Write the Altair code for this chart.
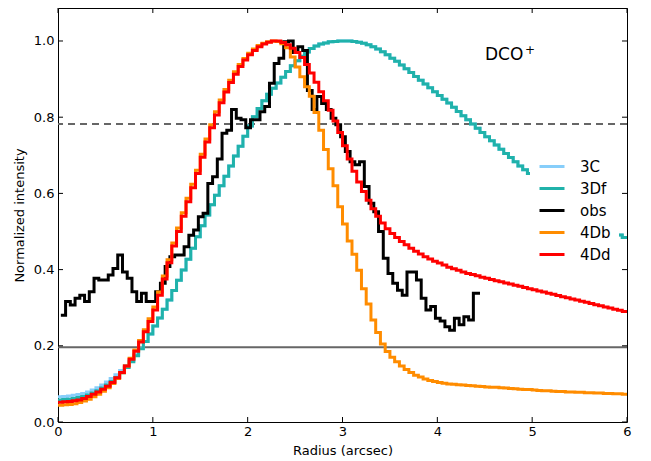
import altair as alt
import pandas as pd

# ---------------- data ----------------
series_names = ["3C", "3Df", "obs", "4Db", "4Dd"]
series_colors = ["#87CEFA", "#20B2AA", "#000000", "#FF8C00", "#FF0000"]

model_step = 0.05  # radial bin width of the models (arcsec)

d4d = [0.052, 0.053, 0.054, 0.056, 0.058, 0.062, 0.067, 0.073, 0.079, 0.086,
       0.094, 0.104, 0.116, 0.130, 0.147, 0.165, 0.186, 0.210, 0.237, 0.264,
       0.294, 0.333, 0.375, 0.418, 0.462, 0.500, 0.540, 0.578, 0.615, 0.652,
       0.695, 0.735, 0.772, 0.806, 0.838, 0.866, 0.891, 0.913, 0.933, 0.950,
       0.964, 0.975, 0.985, 0.992, 0.997, 1.000, 1.000, 0.996, 0.990, 0.981,
       0.970, 0.957, 0.938, 0.916, 0.892, 0.867, 0.843, 0.818, 0.790, 0.760,
       0.725, 0.690, 0.658, 0.630, 0.605, 0.582, 0.560, 0.540, 0.522, 0.507,
       0.495, 0.484, 0.474, 0.465, 0.456, 0.448, 0.441, 0.434, 0.428, 0.422,
       0.417, 0.412, 0.406, 0.402, 0.398, 0.394, 0.390, 0.387, 0.384, 0.380,
       0.377, 0.374, 0.371, 0.368, 0.365, 0.362, 0.359, 0.356, 0.353, 0.350,
       0.347, 0.344, 0.341, 0.338, 0.335, 0.332, 0.329, 0.326, 0.323, 0.320,
       0.317, 0.314, 0.311, 0.308, 0.305, 0.302, 0.299, 0.296, 0.293, 0.290]

d4b = [0.044, 0.045, 0.046, 0.048, 0.051, 0.055, 0.060, 0.066, 0.073, 0.081,
       0.090, 0.101, 0.114, 0.129, 0.147, 0.167, 0.189, 0.214, 0.242, 0.271,
       0.302, 0.341, 0.383, 0.426, 0.470, 0.509, 0.549, 0.587, 0.624, 0.661,
       0.703, 0.743, 0.780, 0.814, 0.845, 0.873, 0.897, 0.919, 0.938, 0.954,
       0.968, 0.979, 0.988, 0.994, 0.998, 1.000, 0.999, 0.993, 0.982, 0.958,
       0.932, 0.906, 0.880, 0.855, 0.812, 0.766, 0.715, 0.665, 0.620, 0.565,
       0.520, 0.475, 0.440, 0.398, 0.350, 0.310, 0.268, 0.235, 0.205, 0.185,
       0.170, 0.158, 0.147, 0.138, 0.130, 0.123, 0.118, 0.113, 0.109, 0.106,
       0.104, 0.102, 0.100, 0.099, 0.098, 0.097, 0.096, 0.095, 0.094, 0.093,
       0.092, 0.091, 0.091, 0.090, 0.089, 0.088, 0.087, 0.086, 0.085, 0.085,
       0.084, 0.083, 0.082, 0.082, 0.081, 0.080, 0.080, 0.079, 0.079, 0.078,
       0.078, 0.077, 0.077, 0.076, 0.076, 0.075, 0.075, 0.074, 0.074, 0.073]

d3f = [0.058, 0.059, 0.060, 0.062, 0.064, 0.067, 0.071, 0.076, 0.082, 0.089,
       0.097, 0.106, 0.117, 0.129, 0.143, 0.158, 0.174, 0.192, 0.211, 0.231,
       0.252, 0.273, 0.296, 0.320, 0.345, 0.372, 0.399, 0.427, 0.456, 0.486,
       0.515, 0.543, 0.570, 0.595, 0.620, 0.645, 0.672, 0.698, 0.724, 0.750,
       0.777, 0.801, 0.823, 0.843, 0.860, 0.876, 0.890, 0.905, 0.920, 0.935,
       0.948, 0.960, 0.971, 0.980, 0.987, 0.992, 0.995, 0.998, 0.999, 1.000,
       1.000, 1.000, 0.999, 0.997, 0.994, 0.990, 0.985, 0.979, 0.972, 0.964,
       0.955, 0.947, 0.937, 0.927, 0.917, 0.907, 0.897, 0.887, 0.877, 0.867,
       0.857, 0.847, 0.837, 0.826, 0.815, 0.804, 0.793, 0.782, 0.771, 0.760,
       0.749, 0.738, 0.727, 0.716, 0.705, 0.694, 0.683, 0.672, 0.662, 0.652,
       0.643, 0.634, 0.625, 0.616, 0.607, 0.598, 0.589, 0.580, 0.571, 0.563,
       0.555, 0.547, 0.539, 0.531, 0.523, 0.515, 0.507, 0.499, 0.491, 0.484]

# 3C differs from 3Df only in the inner part
c3_head = [0.066, 0.067, 0.068, 0.070, 0.072, 0.075, 0.079, 0.084, 0.090, 0.097,
           0.105, 0.114, 0.124, 0.135, 0.148, 0.162, 0.177, 0.194]
c3 = c3_head + d3f[len(c3_head):]

obs_start = 0.03
obs_step = 0.05
obs_end = 4.45
obs = [0.280, 0.316, 0.307, 0.325, 0.333, 0.316, 0.342, 0.377, 0.373, 0.373,
       0.386, 0.403, 0.438, 0.394, 0.377, 0.342, 0.316, 0.338, 0.316, 0.316,
       0.342, 0.364, 0.408, 0.434, 0.438, 0.438, 0.460, 0.490, 0.504, 0.539,
       0.548, 0.626, 0.644, 0.690, 0.758, 0.766, 0.820, 0.797, 0.793, 0.772,
       0.793, 0.793, 0.814, 0.828, 0.889, 0.941, 0.955, 0.998, 1.000, 0.970,
       0.985, 0.975, 0.870, 0.820, 0.854, 0.836, 0.820, 0.797, 0.780, 0.749,
       0.710, 0.683, 0.675, 0.683, 0.618, 0.574, 0.552, 0.500, 0.430, 0.390,
       0.364, 0.346, 0.333, 0.394, 0.394, 0.373, 0.325, 0.294, 0.303, 0.272,
       0.265, 0.250, 0.241, 0.272, 0.255, 0.276, 0.268, 0.338]

solid_level = [0.196]
dashed_level = [0.782]

x_ticks = [0, 1, 2, 3, 4, 5, 6]
y_ticks = [0.0, 0.2, 0.4, 0.6, 0.8, 1.0]

label_text = ["DCO"]
label_pos = [(4.503, 0.950)]
sup_text = ["+"]
sup_pos = [(4.977, 0.976)]

# ---------------- build tables ----------------
def model_frame(name, vals):
    rows = [{"r": round(i * model_step, 3), "v": v, "series": name}
            for i, v in enumerate(vals)]
    rows.append({"r": round(len(vals) * model_step, 3), "v": vals[-1], "series": name})
    return pd.DataFrame(rows)

def obs_frame(name, vals):
    rows = [{"r": round(obs_start + i * obs_step, 3), "v": v, "series": name}
            for i, v in enumerate(vals)]
    rows.append({"r": obs_end, "v": vals[-1], "series": name})
    return pd.DataFrame(rows)

frames = {
    "3C": model_frame("3C", c3),
    "3Df": model_frame("3Df", d3f),
    "obs": obs_frame("obs", obs),
    "4Db": model_frame("4Db", d4b),
    "4Dd": model_frame("4Dd", d4d),
}

W, H = 569, 414
xscale = alt.Scale(domain=[0, 6], nice=False, zero=False)
yscale = alt.Scale(domain=[0, 1.0866], nice=False, zero=False)

xaxis = alt.Axis(values=x_ticks, format="d", grid=False, ticks=False, domain=False,
                 labelFlush=False,
                 labelFont="DejaVu Sans", labelFontSize=13, labelColor="black",
                 labelPadding=3, title="Radius (arcsec)", titleFont="DejaVu Sans",
                 titleFontSize=13, titleFontWeight="normal", titleColor="black",
                 titlePadding=6)
yaxis = alt.Axis(values=y_ticks, format=".1f", grid=False, ticks=False, domain=False,
                 labelFlush=False,
                 labelFont="DejaVu Sans", labelFontSize=13, labelColor="black",
                 labelPadding=4, title="Normalized intensity", titleFont="DejaVu Sans",
                 titleFontSize=13, titleFontWeight="normal", titleColor="black",
                 titlePadding=7)

color_scale = alt.Scale(domain=series_names, range=series_colors)
legend = alt.Legend(title=None, orient="none", legendX=472, legendY=136.5,
                    fillColor="white", padding=8, symbolType="stroke",
                    symbolSize=625, symbolStrokeWidth=3, rowPadding=-2,
                    labelFont="DejaVu Sans", labelFontSize=15, labelColor="black",
                    labelOffset=14)

layers = []

# reference horizontal lines
layers.append(alt.Chart(pd.DataFrame({"v": solid_level})).mark_rule(
    color="#666666", strokeWidth=2).encode(
    y=alt.Y("v:Q", scale=yscale, axis=yaxis)))
layers.append(alt.Chart(pd.DataFrame({"v": dashed_level})).mark_rule(
    color="#666666", strokeWidth=2, strokeDash=[7, 5]).encode(
    y=alt.Y("v:Q", scale=yscale, axis=yaxis)))

# curves
for name in series_names:
    layers.append(alt.Chart(frames[name]).mark_line(
        interpolate="step-after", strokeWidth=3).encode(
        x=alt.X("r:Q", scale=xscale, axis=xaxis),
        y=alt.Y("v:Q", scale=yscale, axis=yaxis),
        color=alt.Color("series:N", scale=color_scale, legend=legend),
        order=alt.Order("r:Q")))

# inward ticks on all four sides
xt = pd.DataFrame({"r": x_ticks})
yt = pd.DataFrame({"v": y_ticks})
layers.append(alt.Chart(xt).mark_rule(color="black", strokeWidth=1).encode(
    x=alt.X("r:Q", scale=xscale, axis=xaxis), y=alt.value(H), y2=alt.value(H - 5)))
layers.append(alt.Chart(xt).mark_rule(color="black", strokeWidth=1).encode(
    x=alt.X("r:Q", scale=xscale, axis=xaxis), y=alt.value(0), y2=alt.value(5)))
layers.append(alt.Chart(yt).mark_rule(color="black", strokeWidth=1).encode(
    y=alt.Y("v:Q", scale=yscale, axis=yaxis), x=alt.value(0), x2=alt.value(5)))
layers.append(alt.Chart(yt).mark_rule(color="black", strokeWidth=1).encode(
    y=alt.Y("v:Q", scale=yscale, axis=yaxis), x=alt.value(W), x2=alt.value(W - 5)))

# annotation
lab = pd.DataFrame({"t": label_text, "r": [p[0] for p in label_pos],
                    "v": [p[1] for p in label_pos]})
sup = pd.DataFrame({"t": sup_text, "r": [p[0] for p in sup_pos],
                    "v": [p[1] for p in sup_pos]})
layers.append(alt.Chart(lab).mark_text(align="left", baseline="alphabetic",
                                       font="DejaVu Sans", fontSize=17,
                                       color="black").encode(
    x=alt.X("r:Q", scale=xscale, axis=xaxis),
    y=alt.Y("v:Q", scale=yscale, axis=yaxis), text="t:N"))
layers.append(alt.Chart(sup).mark_text(align="center", baseline="middle",
                                       font="DejaVu Sans", fontSize=12,
                                       color="black").encode(
    x=alt.X("r:Q", scale=xscale, axis=xaxis),
    y=alt.Y("v:Q", scale=yscale, axis=yaxis), text="t:N"))

chart = alt.layer(*layers).properties(
    width=W, height=H,
    autosize=alt.AutoSizeParams(type="none"),
    padding={"left": 50, "top": 0, "right": 16, "bottom": 38},
    background="white",
).configure_view(stroke="black", strokeWidth=1)

chart.save("out.html", embed_options={"renderer": "svg", "actions": False})
